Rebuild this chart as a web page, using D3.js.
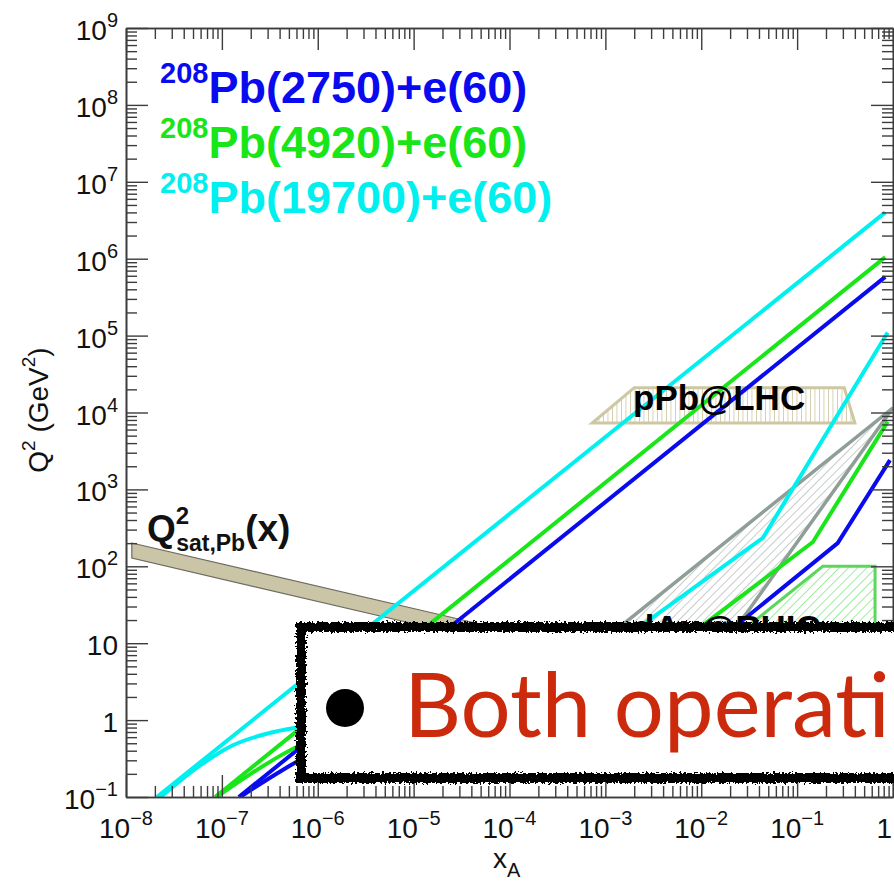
<!DOCTYPE html>
<html>
<head>
<meta charset="utf-8">
<script src="https://cdn.jsdelivr.net/npm/d3@7"></script>
<style>
  html, body { margin: 0; padding: 0; background: #fff; }
  svg { display: block; font-family: "Liberation Sans", Arial, Helvetica, sans-serif; }
</style>
</head>
<body>
<svg id="chart" width="894" height="881"></svg>
<script>
// axis ticks
var xDecades = [1e-8, 1e-7, 1e-6, 1e-5, 1e-4, 1e-3, 1e-2, 1e-1, 1];
var xExps = ["−8", "−7", "−6", "−5", "−4", "−3", "−2", "−1", ""];
var yDecades = [1e-1, 1, 10, 1e2, 1e3, 1e4, 1e5, 1e6, 1e7, 1e8, 1e9];
var yBase = ["10", "1", "10", "10", "10", "10", "10", "10", "10", "10", "10"];
var yExps = ["−1", "", "", "2", "3", "4", "5", "6", "7", "8", "9"];

// legend
var beams = ["2750", "4920", "19700"];
var beamColors = ["#0a0aee", "#19e619", "#00f0f0"];

// y = 1 diagonal limits  [x, Q2]
var pb2750Diag = [[1.5e-7, 0.1], [0.83, 5.8e5]];
var pb4920Diag = [[8.5e-8, 0.1], [0.83, 1.05e6]];
var pb19700Diag = [[2.1e-8, 0.1], [0.83, 4.0e6]];

// low Q2 (electron angle) curves
var pb2750Low = [[1.55e-7, 0.1], [3e-7, 0.17], [6.1e-7, 0.29], [2e-6, 0.6], [1e-5, 0.95]];
var pb4920Low = [[8.8e-8, 0.1], [2e-7, 0.2], [4e-7, 0.34], [6.1e-7, 0.45], [2e-6, 0.75], [1e-5, 1.0]];
var pb19700Low = [[2.3e-8, 0.1], [6e-8, 0.26], [1.3e-7, 0.47], [3e-7, 0.67], [6.1e-7, 0.8], [2e-6, 0.97], [1e-5, 1.05]];

// high x limits
var pb2750High = [[1.4e-3, 1], [0.025, 18.3], [0.265, 200], [0.93, 2.4e3]];
var pb4920High = [[5e-4, 1], [0.0168, 27], [0.146, 207], [0.88, 7.6e3]];
var pb19700High = [[1e-4, 1], [4.4e-3, 29.5], [0.044, 234], [0.88, 1.1e5]];

// saturation scale band
var satX = [1.15e-8, 1e-2];
var satUpper = [201, 3.8];
var satLower = [128, 2.4];

// regions
var pPbRegion = [[7.3e-4, 7.3e3], [2.0e-3, 2.1e4], [0.31, 2.1e4], [0.40, 7.3e3]];
var dAuRegion = [[1.0, 1.15e4], [1.3e-4, 1.5], [6e-3, 1.5]];
var greenRegion = [[0.185, 100], [0.65, 100], [0.65, 1], [1.85e-3, 1]];

var svg = d3.select("#chart");
var x = d3.scaleLog().domain([1e-8, 1]).range([126, 893]);
var y = d3.scaleLog().domain([0.1, 1e9]).range([797, 28]);

var defs = svg.append("defs");
defs.append("clipPath").attr("id", "plotclip").append("rect")
  .attr("x", 126).attr("y", 28).attr("width", 767).attr("height", 769);

function hatch(id, color, spacing, angle, width) {
  var p = defs.append("pattern").attr("id", id).attr("patternUnits", "userSpaceOnUse")
    .attr("width", spacing).attr("height", spacing)
    .attr("patternTransform", "rotate(" + angle + ")");
  p.append("line").attr("x1", 0).attr("y1", 0).attr("x2", 0).attr("y2", spacing)
    .attr("stroke", color).attr("stroke-width", width);
}
hatch("hGray", "#8f9e96", 6, 45, 1);
hatch("hGreen", "#3ed83e", 6.5, 45, 1);
hatch("hTan", "#cdc7a2", 4.5, 0, 1.6);

var rough = defs.append("filter").attr("id", "rough").attr("x", "-5%").attr("y", "-20%").attr("width", "110%").attr("height", "140%");
rough.append("feTurbulence").attr("type", "fractalNoise").attr("baseFrequency", 0.45).attr("numOctaves", 2).attr("seed", 4).attr("result", "n");
rough.append("feDisplacementMap").attr("in", "SourceGraphic").attr("in2", "n").attr("scale", 7);

var lineGen = d3.line().x(d => x(d[0])).y(d => y(d[1]));
var smoothGen = d3.line().x(d => x(d[0])).y(d => y(d[1])).curve(d3.curveMonotoneX);
var closedGen = d3.line().x(d => x(d[0])).y(d => y(d[1])).curve(d3.curveLinearClosed);

var plot = svg.append("g").attr("clip-path", "url(#plotclip)");

// saturation band
var band = satX.map((v, i) => [v, satUpper[i]]).concat(satX.map((v, i) => [v, satLower[i]]).reverse());
plot.append("path").attr("d", closedGen(band)).attr("fill", "#cbc5a7").attr("stroke", "#6b6b60").attr("stroke-width", 1.2);

// regions
plot.append("path").attr("d", closedGen(pPbRegion)).attr("fill", "url(#hTan)").attr("stroke", "#cdc7a2").attr("stroke-width", 3);
plot.append("path").attr("d", closedGen(dAuRegion)).attr("fill", "url(#hGray)").attr("stroke", "#8f9e96").attr("stroke-width", 3.5);
plot.append("path").attr("d", closedGen(greenRegion)).attr("fill", "url(#hGreen)").attr("stroke", "#5ed65e").attr("stroke-width", 3);

// kinematic limits
var sets = [
  [pb2750Diag, pb2750Low, pb2750High],
  [pb4920Diag, pb4920Low, pb4920High],
  [pb19700Diag, pb19700Low, pb19700High]
];
sets.forEach(function(s, i) {
  plot.append("path").attr("d", lineGen(s[0])).attr("fill", "none").attr("stroke", beamColors[i]).attr("stroke-width", 4);
  plot.append("path").attr("d", smoothGen(s[1])).attr("fill", "none").attr("stroke", beamColors[i]).attr("stroke-width", 4);
  plot.append("path").attr("d", lineGen(s[2])).attr("fill", "none").attr("stroke", beamColors[i]).attr("stroke-width", 4);
});

// region labels
svg.append("text").attr("x", 633).attr("y", 410).attr("font-weight", "bold").attr("font-size", 35).attr("fill", "#000").text("pPb@LHC");
svg.append("text").attr("x", 633).attr("y", 640).attr("font-weight", "bold").attr("font-size", 35).attr("fill", "#000").text("dAu@RHIC");

var qs = svg.append("text").attr("x", 147).attr("y", 541).attr("font-weight", "bold").attr("fill", "#111");
qs.append("tspan").attr("font-size", 37).text("Q");
qs.append("tspan").attr("font-size", 24).attr("dy", -17).text("2");
qs.append("tspan").attr("font-size", 23).attr("dx", -13).attr("dy", 27).text("sat,Pb");
qs.append("tspan").attr("font-size", 37).attr("dy", -10).text("(x)");

// legend
beams.forEach(function(b, i) {
  var t = svg.append("text").attr("x", 160).attr("y", 103 + i * 55).attr("font-weight", "bold").attr("fill", beamColors[i]);
  t.append("tspan").attr("font-size", 29).attr("dy", -20).text("208");
  t.append("tspan").attr("font-size", 45).attr("dy", 20).text("Pb(" + b + ")+e(60)");
});

// axes, ticks inside on all four sides
var xMinor = [], yMinor = [];
xDecades.slice(0, -1).forEach(d => { for (var k = 2; k < 10; k++) xMinor.push(d * k); });
yDecades.slice(0, -1).forEach(d => { for (var k = 2; k < 10; k++) yMinor.push(d * k); });

function drawAxis(gen, pos, minorLen, majorLen, majors, minors) {
  var g = svg.append("g").attr("transform", pos);
  g.call(gen.tickValues(minors).tickSizeInner(minorLen).tickSizeOuter(0).tickFormat(""));
  var g2 = svg.append("g").attr("transform", pos);
  g2.call(gen.tickValues(majors).tickSizeInner(majorLen).tickSizeOuter(0).tickFormat(""));
  [g, g2].forEach(a => {
    a.selectAll("path.domain").attr("stroke", "#3c3c3c").attr("stroke-width", 1.6);
    a.selectAll(".tick line").attr("stroke", "#3c3c3c").attr("stroke-width", 1.4);
  });
}
drawAxis(d3.axisBottom(x), "translate(0,797)", -11, -22, xDecades, xMinor);
drawAxis(d3.axisTop(x), "translate(0,28)", -11, -22, xDecades, xMinor);
drawAxis(d3.axisLeft(y), "translate(126,0)", -11, -22, yDecades, yMinor);
drawAxis(d3.axisRight(y), "translate(893,0)", -11, -22, yDecades, yMinor);

// tick labels (the last one is pulled inside the page edge)
xDecades.forEach(function(d, i) {
  var last = d === 1;
  var t = svg.append("text").attr("x", last ? 892 : x(d)).attr("y", 838)
    .attr("text-anchor", last ? "end" : "middle").attr("font-size", 28).attr("fill", "#111");
  t.append("tspan").text(last ? "1" : "10");
  if (xExps[i]) t.append("tspan").attr("font-size", 20).attr("dy", -13).text(xExps[i]);
});
yDecades.forEach(function(d, i) {
  var t = svg.append("text").attr("x", 118).attr("y", y(d) + 12).attr("text-anchor", "end").attr("font-size", 28).attr("fill", "#111");
  t.append("tspan").text(yBase[i]);
  if (yExps[i]) t.append("tspan").attr("font-size", 20).attr("dy", -13).text(yExps[i]);
});

// axis titles
var xt = svg.append("text").attr("x", 493).attr("y", 868).attr("font-size", 28).attr("fill", "#111");
xt.append("tspan").text("x");
xt.append("tspan").attr("font-size", 20).attr("dy", 9).text("A");
var yt = svg.append("text").attr("transform", "translate(48,410) rotate(-90)").attr("text-anchor", "middle").attr("font-size", 28).attr("fill", "#111");
yt.append("tspan").text("Q");
yt.append("tspan").attr("font-size", 19).attr("dy", -13).text("2");
yt.append("tspan").attr("dy", 13).text(" (GeV");
yt.append("tspan").attr("font-size", 19).attr("dy", -13).text("2");
yt.append("tspan").attr("dy", 13).text(")");

// overlaid slide box
var box = svg.append("g");
box.append("rect").attr("x", 301).attr("y", 627).attr("width", 640).attr("height", 151)
  .attr("fill", "#fff").attr("stroke", "none");
box.append("rect").attr("x", 301).attr("y", 627).attr("width", 640).attr("height", 151)
  .attr("fill", "none").attr("stroke", "#000").attr("stroke-width", 10).attr("filter", "url(#rough)");
box.append("circle").attr("cx", 345).attr("cy", 708).attr("r", 19).attr("fill", "#000");
var bt = box.append("text").attr("x", 404).attr("y", 737).attr("font-family", "Lato, 'Open Sans', sans-serif")
  .attr("font-size", 90).attr("fill", "#cc2a0c").text("Both operati");
var textLen = bt.node().getComputedTextLength();
bt.attr("font-size", 90 * 486 / textLen);
</script>
</body>
</html>
